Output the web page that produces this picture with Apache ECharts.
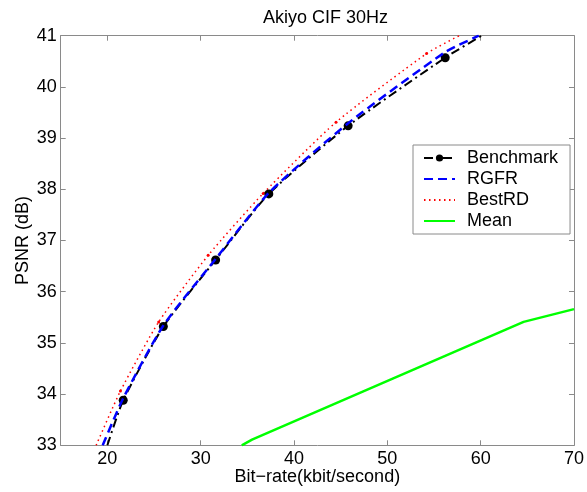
<!DOCTYPE html>
<html>
<head>
<meta charset="utf-8">
<title>Akiyo CIF 30Hz</title>
<script src="https://cdn.jsdelivr.net/npm/echarts@6/dist/echarts.min.js"></script>
<style>
    html, body { margin: 0; padding: 0; background: #fff; }
    #chart { width: 587px; height: 492px; }
</style>
</head>
<body>
<div id="chart"></div>
<script>
// ====================数据====================
var xTicks = [20, 30, 40, 50, 60, 70];
var yTicks = [33, 34, 35, 36, 37, 38, 39, 40, 41];

var benchX = [20.0, 21.7, 26.0, 31.6, 37.3, 45.8, 56.2, 60.1];
var benchY = [33.0, 33.88, 35.32, 36.62, 37.91, 39.24, 40.57, 41.0];

var rgfrX = [19.5, 21.7, 26.0, 31.6, 37.3, 45.8, 56.2, 59.8];
var rgfrY = [33.0, 33.92, 35.34, 36.64, 37.93, 39.29, 40.68, 41.0];

var bestX = [18.8, 21.4, 25.5, 30.8, 36.7, 44.5, 54.2, 57.7];
var bestY = [33.0, 34.06, 35.41, 36.71, 37.92, 39.31, 40.65, 41.0];

var meanX = [34.4, 35.5, 64.6, 70.0];
var meanY = [33.0, 33.11, 35.41, 35.66];

// 把x/y数组拼成点, 端点不画标记
function pairs(xs, ys, hideEnds) {
    var out = [];
    for (var i = 0; i < xs.length; i++) {
        var item = { value: [xs[i], ys[i]] };
        if (hideEnds && (i == 0 || i == xs.length - 1)) {
            item.symbol = 'none';
        }
        out.push(item);
    }
    return out;
}

var font = 'Liberation Sans, Arial, sans-serif';
var axisColor = '#8a8a8a';
var noMark = { opacity: 0 }; // 图例里不要圆点

var myChart = echarts.init(document.getElementById('chart'));
var option = {
    backgroundColor: '#fff',
    animation: false,
    title: {
        text: 'Akiyo CIF 30Hz',
        left: 258,
        top: 4,
        textStyle: { fontFamily: font, fontSize: 18, fontWeight: 'normal', color: '#000' }
    },
    legend: {
        orient: 'vertical',
        left: 413,
        top: 145,
        padding: [4, 12, 4, 10],
        itemWidth: 31,
        itemHeight: 9,
        itemGap: 3,
        backgroundColor: '#fff',
        borderColor: '#8a8a8a',
        borderWidth: 1,
        textStyle: { fontFamily: font, fontSize: 18, color: '#000', padding: [0, 0, 0, 7] },
        data: [
            { name: 'Benchmark' },
            { name: 'RGFR', itemStyle: noMark },
            { name: 'BestRD', itemStyle: noMark },
            { name: 'Mean', itemStyle: noMark }
        ]
    },
    grid: {
        left: 60.7,
        right: 9.3,
        top: 35.7,
        bottom: 46.7
    },
    xAxis: [{
        type: 'value',
        min: 15,
        max: 70,
        name: 'Bit\u2212rate(kbit/second)',
        nameLocation: 'middle',
        nameGap: 23,
        nameMoveOverlap: false,
        nameTextStyle: { fontFamily: font, fontSize: 18, color: '#000' },
        axisLine: { onZero: false, lineStyle: { color: axisColor, width: 1 } },
        axisTick: { inside: true, length: 5, customValues: xTicks, lineStyle: { color: axisColor } },
        axisLabel: { customValues: xTicks, margin: 5, fontFamily: font, fontSize: 18, color: '#000' },
        splitLine: { show: false }
    }, {
        type: 'value',
        position: 'top',
        min: 15,
        max: 70,
        axisLine: { onZero: false, lineStyle: { color: axisColor, width: 1 } },
        axisTick: { inside: true, length: 5, customValues: xTicks, lineStyle: { color: axisColor } },
        axisLabel: { show: false },
        splitLine: { show: false }
    }],
    yAxis: [{
        type: 'value',
        min: 33,
        max: 41,
        interval: 1,
        name: 'PSNR (dB)',
        nameLocation: 'middle',
        nameGap: 29,
        nameMoveOverlap: false,
        nameTextStyle: { fontFamily: font, fontSize: 18, color: '#000' },
        axisLine: { show: true, onZero: false, lineStyle: { color: axisColor, width: 1 } },
        axisTick: { show: true, inside: true, length: 5, lineStyle: { color: axisColor } },
        axisLabel: { margin: 4, fontFamily: font, fontSize: 18, color: '#000' },
        splitLine: { show: false }
    }, {
        type: 'value',
        position: 'right',
        min: 33,
        max: 41,
        interval: 1,
        axisLine: { show: true, onZero: false, lineStyle: { color: axisColor, width: 1 } },
        axisTick: { show: true, inside: true, length: 5, lineStyle: { color: axisColor } },
        axisLabel: { show: false },
        splitLine: { show: false }
    }],
    series: [{
        name: 'Benchmark',
        type: 'line',
        smooth: 0.2,
        symbol: 'circle',
        symbolSize: 9,
        itemStyle: { color: '#000' },
        lineStyle: { color: '#000', width: 2, type: [9, 4, 2, 4] },
        data: pairs(benchX, benchY, true),
        z: 4
    }, {
        name: 'RGFR',
        type: 'line',
        smooth: 0.2,
        symbol: 'none',
        itemStyle: { color: '#0000ff' },
        lineStyle: { color: '#0000ff', width: 2.5, type: [9, 5] },
        data: pairs(rgfrX, rgfrY, false),
        z: 5
    }, {
        name: 'BestRD',
        type: 'line',
        smooth: 0.2,
        symbol: 'circle',
        symbolSize: 3,
        itemStyle: { color: '#ff0000' },
        lineStyle: { color: '#ff0000', width: 1.5, type: [1.5, 3.5] },
        data: pairs(bestX, bestY, true),
        z: 3
    }, {
        name: 'Mean',
        type: 'line',
        symbol: 'none',
        itemStyle: { color: '#00ff00' },
        lineStyle: { color: '#00ff00', width: 2.5 },
        data: pairs(meanX, meanY, false),
        z: 3
    }]
};

myChart.setOption(option);
</script>
</body>
</html>
